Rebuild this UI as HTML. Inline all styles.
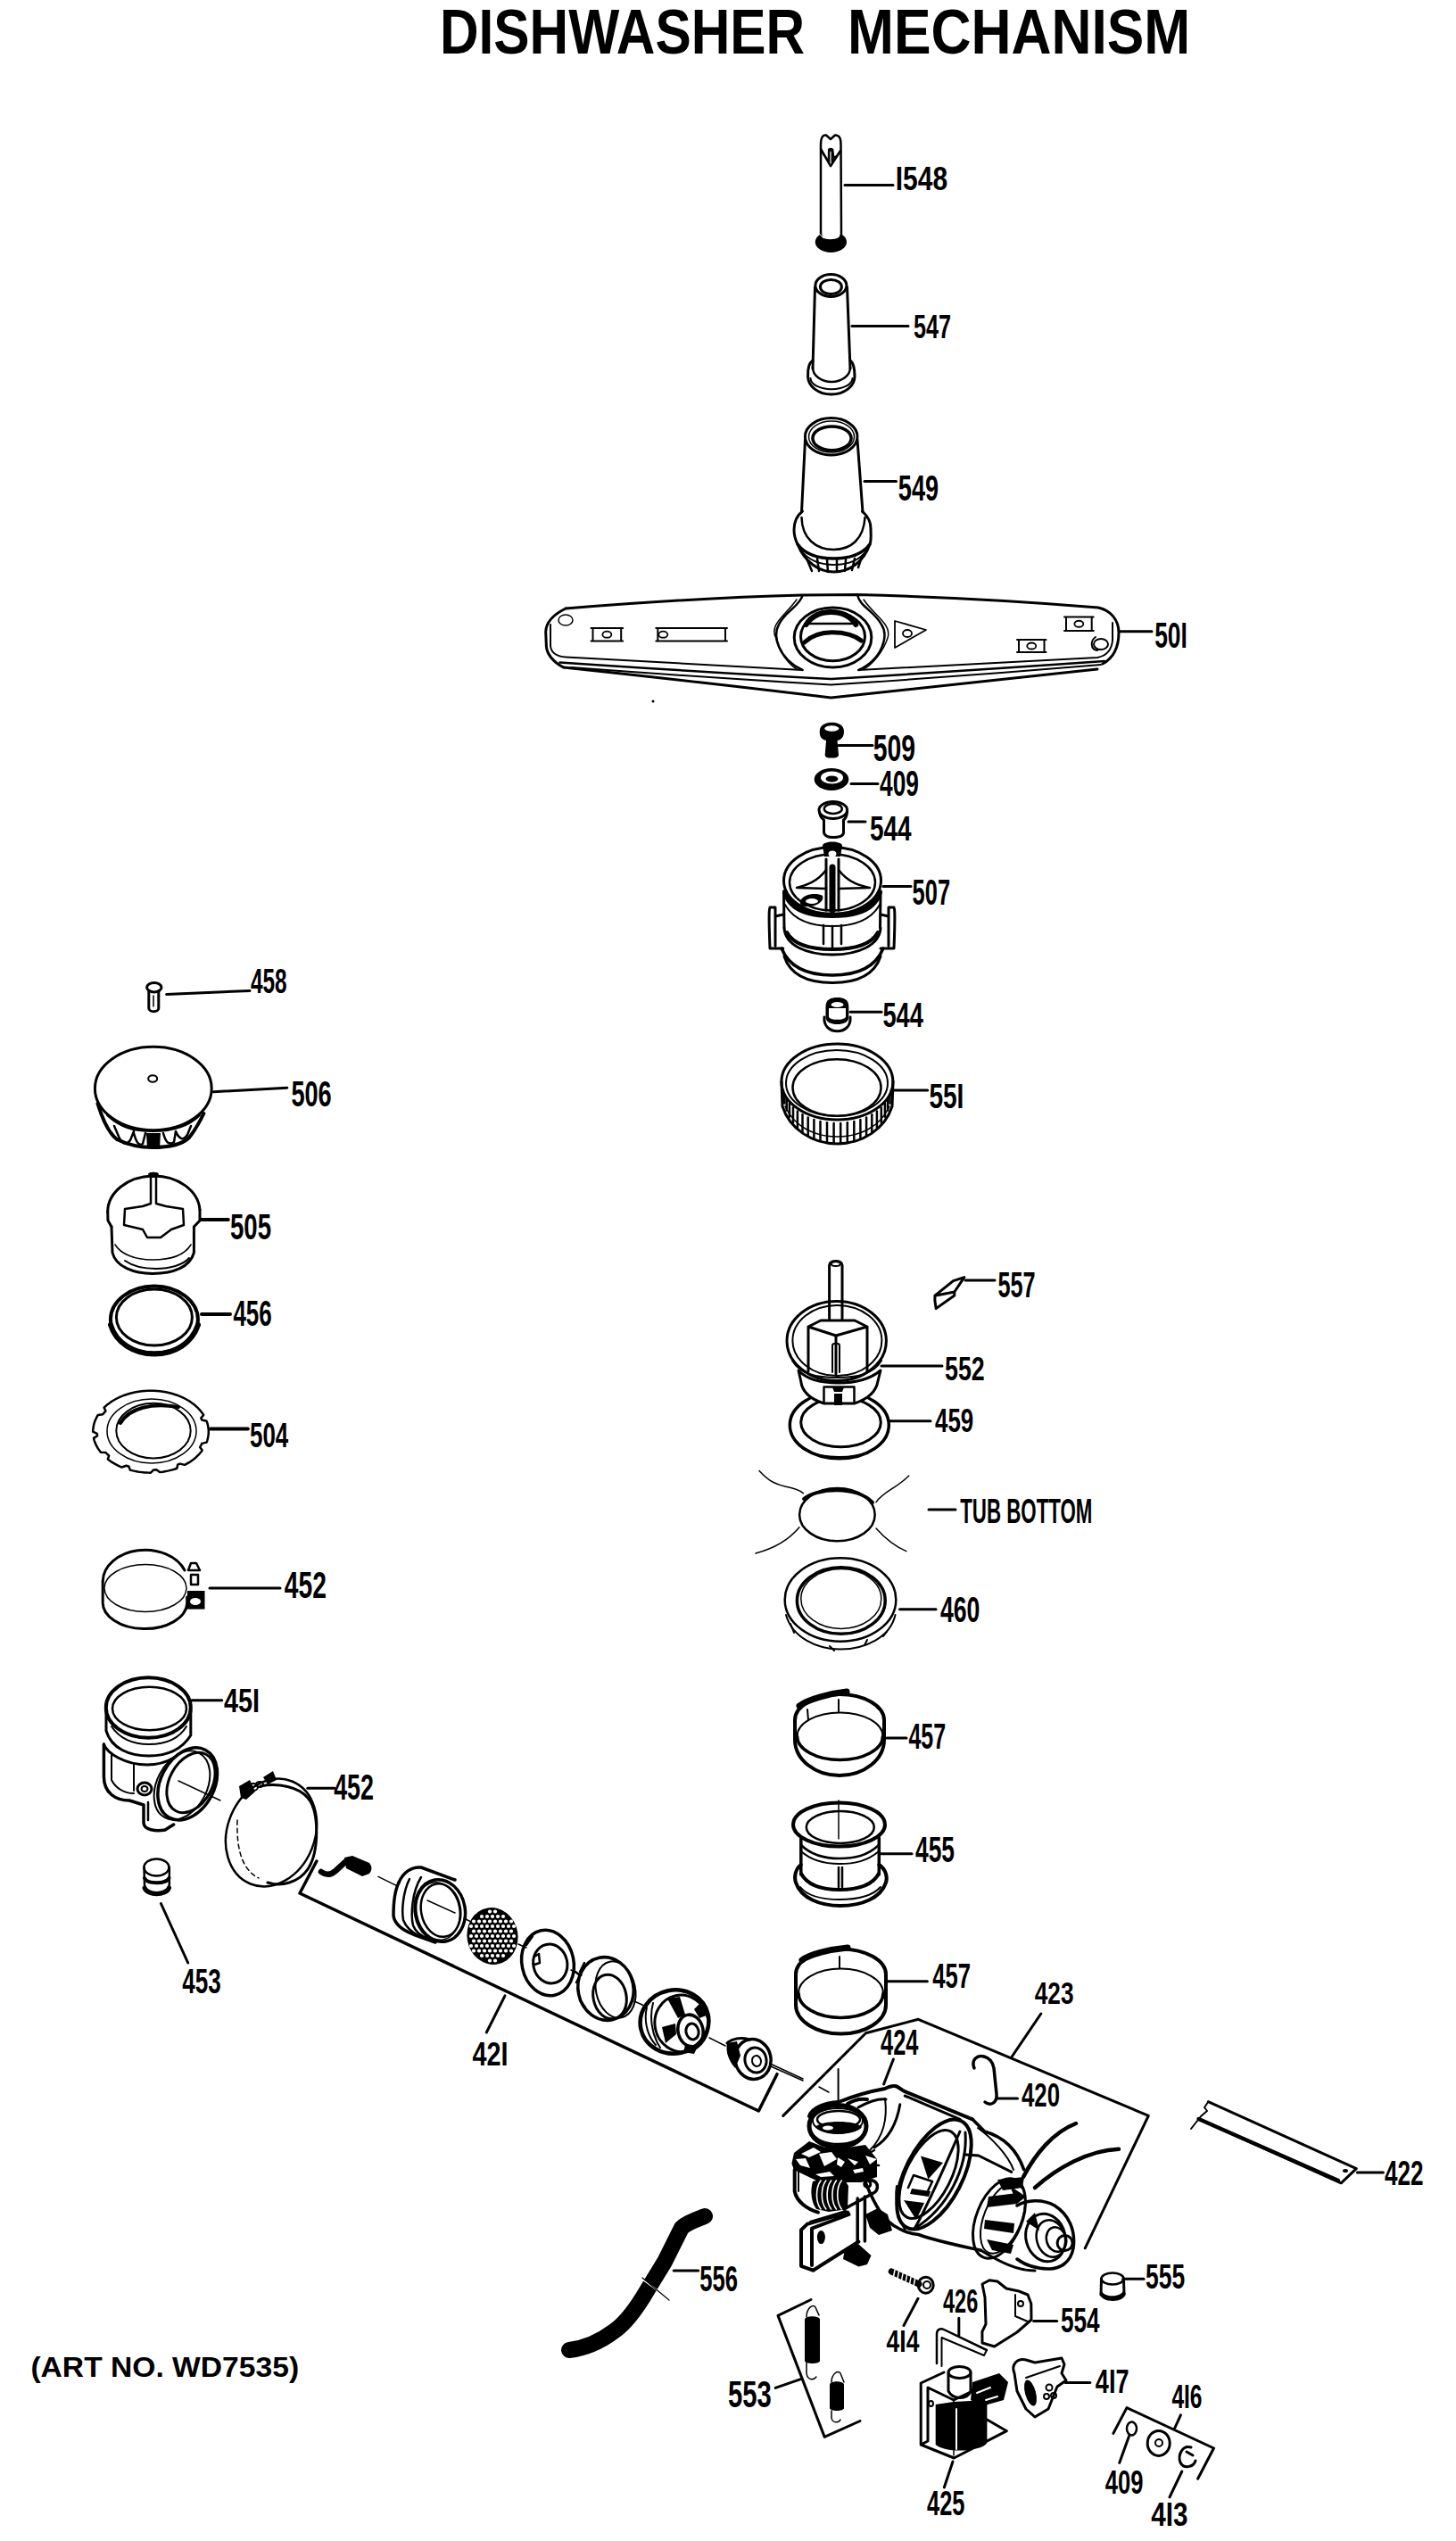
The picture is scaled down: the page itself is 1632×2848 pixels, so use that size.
<!DOCTYPE html><html><head><meta charset="utf-8"><title>Dishwasher Mechanism</title>
<style>html,body{margin:0;padding:0;background:#fff;}svg{display:block;}</style></head><body>
<svg width="1632" height="2848" viewBox="0 0 1632 2848">
<rect width="1632" height="2848" fill="#fff"/>
<g font-family="&quot;Liberation Sans&quot;, sans-serif" font-weight="bold" fill="#000">
<text x="493.0" y="60.0" font-size="71.3" textLength="409.1" lengthAdjust="spacingAndGlyphs">DISHWASHER</text>
<text x="950.0" y="60.0" font-size="71.3" textLength="384.2" lengthAdjust="spacingAndGlyphs">MECHANISM</text>
<text x="34.4" y="2663.7" font-size="31.0" textLength="300.7" lengthAdjust="spacingAndGlyphs">(ART NO. WD7535)</text>
<text x="1003.8" y="212.6" font-size="36.1" textLength="58.3" lengthAdjust="spacingAndGlyphs">I548</text>
<text x="1024.0" y="378.8" font-size="37.5" textLength="42.1" lengthAdjust="spacingAndGlyphs">547</text>
<text x="1006.8" y="560.6" font-size="39.8" textLength="45.3" lengthAdjust="spacingAndGlyphs">549</text>
<text x="1294.2" y="726.0" font-size="40.6" textLength="36.7" lengthAdjust="spacingAndGlyphs">50I</text>
<text x="978.8" y="853.0" font-size="42.1" textLength="47.3" lengthAdjust="spacingAndGlyphs">509</text>
<text x="986.0" y="892.0" font-size="41.5" textLength="43.9" lengthAdjust="spacingAndGlyphs">409</text>
<text x="975.0" y="942.0" font-size="39.2" textLength="46.6" lengthAdjust="spacingAndGlyphs">544</text>
<text x="1022.6" y="1014.0" font-size="41.5" textLength="42.5" lengthAdjust="spacingAndGlyphs">507</text>
<text x="989.4" y="1151.0" font-size="39.2" textLength="45.5" lengthAdjust="spacingAndGlyphs">544</text>
<text x="1041.4" y="1242.0" font-size="39.2" textLength="39.0" lengthAdjust="spacingAndGlyphs">55I</text>
<text x="1118.4" y="1454.0" font-size="40.6" textLength="42.1" lengthAdjust="spacingAndGlyphs">557</text>
<text x="1059.0" y="1547.0" font-size="37.8" textLength="44.7" lengthAdjust="spacingAndGlyphs">552</text>
<text x="1048.0" y="1605.0" font-size="36.4" textLength="43.2" lengthAdjust="spacingAndGlyphs">459</text>
<text x="1076.2" y="1706.6" font-size="38.4" textLength="148.2" lengthAdjust="spacingAndGlyphs">TUB BOTTOM</text>
<text x="1054.0" y="1817.8" font-size="40.4" textLength="44.4" lengthAdjust="spacingAndGlyphs">460</text>
<text x="1018.4" y="1960.0" font-size="40.4" textLength="41.7" lengthAdjust="spacingAndGlyphs">457</text>
<text x="1026.0" y="2087.4" font-size="39.8" textLength="44.0" lengthAdjust="spacingAndGlyphs">455</text>
<text x="1045.2" y="2228.0" font-size="39.2" textLength="42.7" lengthAdjust="spacingAndGlyphs">457</text>
<text x="1159.8" y="2246.4" font-size="34.3" textLength="43.7" lengthAdjust="spacingAndGlyphs">423</text>
<text x="987.0" y="2303.2" font-size="39.8" textLength="42.5" lengthAdjust="spacingAndGlyphs">424</text>
<text x="1145.0" y="2360.8" font-size="37.5" textLength="43.0" lengthAdjust="spacingAndGlyphs">420</text>
<text x="1552.0" y="2449.0" font-size="39.2" textLength="43.5" lengthAdjust="spacingAndGlyphs">422</text>
<text x="784.2" y="2568.0" font-size="40.4" textLength="42.7" lengthAdjust="spacingAndGlyphs">556</text>
<text x="1284.0" y="2565.4" font-size="39.5" textLength="44.1" lengthAdjust="spacingAndGlyphs">555</text>
<text x="1189.0" y="2614.4" font-size="39.2" textLength="43.6" lengthAdjust="spacingAndGlyphs">554</text>
<text x="1057.0" y="2592.4" font-size="37.5" textLength="39.2" lengthAdjust="spacingAndGlyphs">426</text>
<text x="993.6" y="2636.4" font-size="34.3" textLength="36.8" lengthAdjust="spacingAndGlyphs">4I4</text>
<text x="816.0" y="2698.2" font-size="42.6" textLength="48.7" lengthAdjust="spacingAndGlyphs">553</text>
<text x="1227.8" y="2682.0" font-size="36.4" textLength="37.7" lengthAdjust="spacingAndGlyphs">4I7</text>
<text x="1313.4" y="2698.8" font-size="37.5" textLength="34.1" lengthAdjust="spacingAndGlyphs">4I6</text>
<text x="1039.0" y="2819.0" font-size="39.2" textLength="42.4" lengthAdjust="spacingAndGlyphs">425</text>
<text x="1238.8" y="2794.6" font-size="36.0" textLength="42.7" lengthAdjust="spacingAndGlyphs">409</text>
<text x="1290.2" y="2831.4" font-size="37.5" textLength="41.3" lengthAdjust="spacingAndGlyphs">4I3</text>
<text x="281.0" y="1112.6" font-size="39.5" textLength="40.6" lengthAdjust="spacingAndGlyphs">458</text>
<text x="326.4" y="1240.0" font-size="40.9" textLength="45.3" lengthAdjust="spacingAndGlyphs">506</text>
<text x="258.0" y="1389.0" font-size="40.4" textLength="46.1" lengthAdjust="spacingAndGlyphs">505</text>
<text x="261.4" y="1485.8" font-size="40.4" textLength="43.3" lengthAdjust="spacingAndGlyphs">456</text>
<text x="280.0" y="1622.4" font-size="39.2" textLength="43.2" lengthAdjust="spacingAndGlyphs">504</text>
<text x="318.8" y="1791.0" font-size="42.1" textLength="47.1" lengthAdjust="spacingAndGlyphs">452</text>
<text x="251.0" y="1919.0" font-size="37.2" textLength="40.1" lengthAdjust="spacingAndGlyphs">45I</text>
<text x="374.2" y="2017.0" font-size="40.1" textLength="44.8" lengthAdjust="spacingAndGlyphs">452</text>
<text x="204.2" y="2234.0" font-size="39.2" textLength="43.5" lengthAdjust="spacingAndGlyphs">453</text>
<text x="529.6" y="2315.0" font-size="36.4" textLength="40.0" lengthAdjust="spacingAndGlyphs">42I</text>
</g>
<g stroke-linecap="round" stroke-linejoin="round"><ellipse cx="931.4" cy="271.2" rx="17.6" ry="11.7" fill="#000" stroke="#000" stroke-width="0"/>
<path d="M920,262 L920,162 C920,153 923,151 926,151.5 L931,156 L936,151.5 C940,151 942.5,154 942.5,162 L943,262 C943,268 938,269.5 931,269.5 C924,269.5 920,268 920,262 Z" fill="#fff" stroke="#000" stroke-width="2.5" />
<path d="M919.5,167.7 L931.2,187.6 L942.2,170.2 L940.3,172.7 L935.2,175 L934.3,167 Q931,164.5 928,167 L927.7,177.8 L922.7,174.6 Z" fill="#000" stroke="none"/>
<path d="M920,167 L931,186 L942,169" fill="none" stroke="#000" stroke-width="2.5" />
<path d="M931,170 L931,183" fill="none" stroke="#fff" stroke-width="1.2" />
<path d="M918.5,262 L923,267" fill="none" stroke="#fff" stroke-width="1" />
<line x1="947" y1="207.6" x2="1001" y2="207.6" stroke="#000" stroke-width="3"/>
<ellipse cx="931.4" cy="320" rx="17.5" ry="12.5" fill="none" stroke="#000" stroke-width="3"/>
<ellipse cx="931.4" cy="321.5" rx="12" ry="8" fill="none" stroke="#000" stroke-width="3"/>
<path d="M913.5,322 L911,413 M949.5,322 L953,413" fill="none" stroke="#000" stroke-width="3" />
<path d="M911,404 Q905,408 905.6,422 A26.2,20 0 0 0 958,422 Q958,408 953,404" fill="none" stroke="#000" stroke-width="3" />
<path d="M911,412 A21,16 0 0 0 953,412" fill="none" stroke="#000" stroke-width="2.5" />
<path d="M908.5,424 A23,12 0 0 0 955.5,424" fill="none" stroke="#000" stroke-width="2" />
<line x1="955" y1="365.6" x2="1018" y2="365.6" stroke="#000" stroke-width="3"/>
<ellipse cx="931.7" cy="489.3" rx="29.3" ry="20.7" fill="none" stroke="#000" stroke-width="3"/>
<ellipse cx="932.5" cy="491.3" rx="21.6" ry="13.4" fill="none" stroke="#000" stroke-width="3.5"/>
<ellipse cx="932" cy="489.6" rx="25.5" ry="17.5" fill="none" stroke="#000" stroke-width="1.5"/>
<path d="M902.5,493 L898.5,574 M961,493 L967,574" fill="none" stroke="#000" stroke-width="3" />
<path d="M899.5,573 C893,578 890,585 890,594 C890,602 892,606 894,610 C902,630 918,641 934.5,641 C952,641 968,630 975,610 C977,605 976,598 976,592 C976,584 972,578 966.5,573" fill="none" stroke="#000" stroke-width="3" />
<path d="M898.5,580 C899,604 915,616 934.5,616 C954,616 968,604 969.5,580" fill="none" stroke="#000" stroke-width="2.5" />
<path d="M894,610 C903,622 918,626 934.5,626 C952,626 966,622 975,610" fill="none" stroke="#000" stroke-width="3.5" />
<path d="M897,616 C906,628 918,633 934.5,633 C952,633 964,628 972,616" fill="none" stroke="#000" stroke-width="2" />
<path d="M905,628 L910,640 M916,626 L918,640 M927,627 L928,641 M938,627 L938,641 M948,627 L947,640 M958,626 L955,639 M966,624 L962,636" fill="none" stroke="#000" stroke-width="2.5" />
<line x1="969" y1="539.6" x2="1004.5" y2="539.6" stroke="#000" stroke-width="3"/>
<path d="M634,682 Q780,670 899.5,667 L961,666.5 Q1100,670 1231,681 C1245,684 1254,695 1254,709 C1254,727 1247,738 1236,744" fill="none" stroke="#000" stroke-width="3" />
<path d="M634,682 C622,688 612,697 611.7,708 L612.4,724.6 C613,733 620,742 631.6,748" fill="none" stroke="#000" stroke-width="3" />
<path d="M617,700 L617,724 C618,732 625,736 634.3,736.5 L899.5,751 M962,751 L1230,737 C1240,735 1246,728 1247,718 L1247,698" fill="none" stroke="#000" stroke-width="2" />
<path d="M627.5,742.4 Q800,754 931.5,761 Q1080,752 1238,741" fill="none" stroke="#000" stroke-width="2.5" />
<path d="M631.6,748 Q800,766 931.5,782 Q1080,766 1230,750" fill="none" stroke="#000" stroke-width="3" />
<path d="M640,748 Q800,760 931.5,767.5 Q1080,758 1234,745" fill="none" stroke="#000" stroke-width="2" />
<path d="M899.5,667.5 C896,680 880,685 873,700 C866,712 872,738 899.5,751" fill="none" stroke="#000" stroke-width="2.5" />
<path d="M893,672 C880,690 862,700 869.6,715 C872,730 885,745 893,750" fill="none" stroke="#000" stroke-width="1.5" />
<path d="M961.3,667.5 C964,680 980,685 988,700 C996,712 990,738 962.4,751" fill="none" stroke="#000" stroke-width="2.5" />
<path d="M968,672 C980,690 1000,700 995,715 C990,730 978,745 968,750" fill="none" stroke="#000" stroke-width="1.5" />
<ellipse cx="933.5" cy="714.5" rx="43.3" ry="33.5" fill="none" stroke="#000" stroke-width="3"/>
<ellipse cx="933.5" cy="713.4" rx="36" ry="27.3" fill="none" stroke="#000" stroke-width="3"/>
<path d="M903.6,700 C910,690 920,686 931.5,686 C943,686 953,690 959.3,700" fill="none" stroke="#000" stroke-width="6" />
<line x1="903" y1="699" x2="960" y2="699" stroke="#000" stroke-width="2.5"/>
<path d="M901.6,720 C910,712 920,708.7 932.5,708.7 C945,708.7 958,712 965.4,718" fill="none" stroke="#000" stroke-width="5" />
<path d="M662.5,704 L698.2,704 M662.5,718.4 L698.2,718.4 M664.5,704 L664.5,718.4 M696.2,704 L696.2,718.4" fill="none" stroke="#000" stroke-width="2" />
<ellipse cx="680.35" cy="711.2" rx="5" ry="3.5" fill="none" stroke="#000" stroke-width="1.8"/>
<path d="M735.3,704 L815,704 M735.3,718.4 L815,718.4 M737.3,704 L737.3,718.4 M813,704 L813,718.4" fill="none" stroke="#000" stroke-width="2" />
<ellipse cx="743.3" cy="711.2" rx="5" ry="3.5" fill="none" stroke="#000" stroke-width="1.8"/>
<path d="M1193,691.5 L1225.7,691.5 M1193,707 L1225.7,707 M1195,691.5 L1195,707 M1223.7,691.5 L1223.7,707" fill="none" stroke="#000" stroke-width="2" />
<ellipse cx="1209.35" cy="699.25" rx="5" ry="3.5" fill="none" stroke="#000" stroke-width="1.8"/>
<path d="M1140,717 L1172.5,717 M1140,731 L1172.5,731 M1142,717 L1142,731 M1170.5,717 L1170.5,731" fill="none" stroke="#000" stroke-width="2" />
<ellipse cx="1156.25" cy="724.0" rx="5" ry="3.5" fill="none" stroke="#000" stroke-width="1.8"/>
<path d="M1003,696 L1038,706 L1003,726 Z" fill="none" stroke="#000" stroke-width="1.8" />
<ellipse cx="1017" cy="710" rx="5" ry="4" fill="none" stroke="#000" stroke-width="1.8"/>
<path d="M626,695 A8,6 0 1 0 642,695 A8,6 0 1 0 626,695" fill="none" stroke="#000" stroke-width="1.5" />
<path d="M1228,714 C1222,718 1222,728 1230,729 M1226,722 A8,6 0 1 0 1242,722 A8,6 0 1 0 1226,722" fill="none" stroke="#000" stroke-width="2" />
<line x1="1255" y1="707.7" x2="1291" y2="707.7" stroke="#000" stroke-width="3"/>
<path d="M918.7,820 C918.7,812 926,809.7 932.3,809.7 C939,809.7 946,812 946,820 C946,828 940,830 938.5,830 L940,846 C940,849 936,849.5 932.3,849.5 C928,849.5 924.7,849 924.7,846 L926,830 C922,829 918.7,827 918.7,820 Z" fill="#000" stroke="none"/>
<ellipse cx="932.3" cy="816.5" rx="8" ry="3.2" fill="#fff" stroke="#000" stroke-width="0"/>
<line x1="940" y1="835.5" x2="978" y2="835.5" stroke="#000" stroke-width="3"/>
<ellipse cx="932" cy="873.5" rx="19.3" ry="12.5" fill="#000" stroke="#000" stroke-width="0"/>
<ellipse cx="932.5" cy="871.5" rx="12.5" ry="7" fill="#fff" stroke="#000" stroke-width="0"/>
<ellipse cx="932.5" cy="873" rx="7" ry="3.5" fill="#000" stroke="#000" stroke-width="0"/>
<line x1="954" y1="878.4" x2="984" y2="878.4" stroke="#000" stroke-width="3"/>
<ellipse cx="933.8" cy="908" rx="15.8" ry="9.5" fill="none" stroke="#000" stroke-width="3"/>
<ellipse cx="933.8" cy="906.5" rx="10" ry="5.5" fill="none" stroke="#000" stroke-width="2.5"/>
<path d="M918.5,910 C919,916 922,918 923.5,919 L923.5,933 C924,937 928,938.5 934,938.5 C940,938.5 945.5,937 945.5,933 L945.5,919 C947,918 949,915 949.6,910" fill="none" stroke="#000" stroke-width="3" />
<line x1="951" y1="921" x2="970" y2="921" stroke="#000" stroke-width="3"/>
<ellipse cx="933" cy="987" rx="54.5" ry="37.5" fill="none" stroke="#000" stroke-width="3"/>
<ellipse cx="933" cy="989" rx="48" ry="31.5" fill="none" stroke="#000" stroke-width="2.5"/>
<path d="M878.5,999 L879,1040 M987,999 L986.5,1040" fill="none" stroke="#000" stroke-width="3" />
<path d="M880,1000 C885,1018 905,1026 933,1026 C961,1026 981,1018 986,1000" fill="none" stroke="#000" stroke-width="6" />
<path d="M882,1045 C890,1060 910,1064 933,1064 C956,1064 976,1060 984,1045" fill="none" stroke="#000" stroke-width="4" />
<path d="M880,1014 C890,1032 910,1038 933,1038 C956,1038 976,1032 986,1014" fill="none" stroke="#000" stroke-width="2" />
<path d="M922,948 C922,942 944,942 944,948 L942,960 L924,960 Z" fill="#000" stroke="none"/>
<ellipse cx="933" cy="957" rx="4.5" ry="3.5" fill="#fff" stroke="#000" stroke-width="0"/>
<path d="M926,963 L926,1020 M940,963 L940,1020" fill="none" stroke="#000" stroke-width="3" />
<path d="M933,972 L933,1020" fill="none" stroke="#000" stroke-width="7" />
<path d="M926,975 C915,990 900,993 893,995 L926,996 M940,975 C951,990 966,993 975,995 L940,996" fill="none" stroke="#000" stroke-width="2.5" />
<path d="M897,1010 C900,1002 915,1000 922,1004 C924,1010 916,1016 905,1016 C899,1016 896,1014 897,1010 Z" fill="#000" stroke="none"/>
<ellipse cx="910" cy="1010" rx="7" ry="3" fill="#fff" stroke="#000" stroke-width="0"/>
<path d="M879,1040 C880,1060 905,1070 933,1070 C961,1070 986,1060 987,1040" fill="none" stroke="#000" stroke-width="3" />
<path d="M923,1037 L923,1058 M933,1038 L933,1064 M943,1037 L943,1058" fill="none" stroke="#000" stroke-width="2.5" />
<path d="M863,1017 C861,1017 863,1063 863,1063 L877.8,1063 M863,1017 L869,1017 L869,1060 M869,1027 L878,1025" fill="none" stroke="#000" stroke-width="3" />
<path d="M1002,1017 C1004,1017 1002,1063 1002,1063 L987,1063 M1002,1017 L996,1017 L996,1060 M996,1027 L987,1025" fill="none" stroke="#000" stroke-width="3" />
<path d="M876,1063 C885,1085 905,1093 933,1093 C961,1093 981,1085 990,1063" fill="none" stroke="#000" stroke-width="3.5" />
<path d="M879,1072 C886,1093 906,1101.5 933,1101.5 C960,1101.5 980,1093 987,1072" fill="none" stroke="#000" stroke-width="3" />
<line x1="990" y1="993.5" x2="1021" y2="993.5" stroke="#000" stroke-width="3"/>
<path d="M925.5,1128 C925.5,1120 932,1118 938.5,1118 C945,1118 951.3,1120 951.3,1128 L951.3,1140 C951.3,1146 945,1148 938.5,1148 C932,1148 925.5,1146 925.5,1140 Z" fill="#000" stroke="none"/>
<ellipse cx="938.5" cy="1126" rx="7" ry="3" fill="#fff" stroke="#000" stroke-width="0"/>
<path d="M928,1130 L928,1140 C930,1145 947,1145 949,1140 L949,1130" fill="#fff" stroke="#000" stroke-width="2" />
<path d="M924,1140 C923,1150 930,1155.8 938.5,1155.8 C947,1155.8 954,1150 953,1140" fill="none" stroke="#000" stroke-width="3" />
<line x1="953" y1="1134.3" x2="988" y2="1134.3" stroke="#000" stroke-width="3"/>
<ellipse cx="938.4" cy="1212.5" rx="62.5" ry="42.5" fill="none" stroke="#000" stroke-width="3"/>
<ellipse cx="938" cy="1214" rx="57" ry="37" fill="none" stroke="#000" stroke-width="2"/>
<ellipse cx="938" cy="1219" rx="49.5" ry="31.8" fill="none" stroke="#000" stroke-width="2.5"/>
<path d="M876,1212 L877,1240 C885,1265 910,1282 938.4,1282 C967,1282 992,1265 1000,1240 L1001,1212" fill="none" stroke="#000" stroke-width="3" />
<path d="M880,1240 C890,1262 912,1274 938.4,1274 C965,1274 987,1262 997,1240" fill="none" stroke="#000" stroke-width="1.5" />
<path d="M877.9,1221.8 L877.9,1227.4" fill="none" stroke="#000" stroke-width="2.5" />
<path d="M879.3,1227.1 L879.3,1236.5" fill="none" stroke="#000" stroke-width="2.5" />
<path d="M881.7,1232.1 L881.7,1244.5" fill="none" stroke="#000" stroke-width="2.5" />
<path d="M884.9,1237.0 L884.9,1251.7" fill="none" stroke="#000" stroke-width="2.5" />
<path d="M889.0,1241.5 L889.0,1258.2" fill="none" stroke="#000" stroke-width="2.5" />
<path d="M893.9,1245.6 L893.9,1263.9" fill="none" stroke="#000" stroke-width="2.5" />
<path d="M899.5,1249.2 L899.5,1268.9" fill="none" stroke="#000" stroke-width="2.5" />
<path d="M905.7,1252.4 L905.7,1273.2" fill="none" stroke="#000" stroke-width="2.5" />
<path d="M912.4,1255.0 L912.4,1276.6" fill="none" stroke="#000" stroke-width="2.5" />
<path d="M919.5,1256.9 L919.5,1279.3" fill="none" stroke="#000" stroke-width="2.5" />
<path d="M927.0,1258.2 L927.0,1281.0" fill="none" stroke="#000" stroke-width="2.5" />
<path d="M934.6,1258.9 L934.6,1281.9" fill="none" stroke="#000" stroke-width="2.5" />
<path d="M942.2,1258.9 L942.2,1281.9" fill="none" stroke="#000" stroke-width="2.5" />
<path d="M949.8,1258.2 L949.8,1281.0" fill="none" stroke="#000" stroke-width="2.5" />
<path d="M957.3,1256.9 L957.3,1279.3" fill="none" stroke="#000" stroke-width="2.5" />
<path d="M964.4,1255.0 L964.4,1276.6" fill="none" stroke="#000" stroke-width="2.5" />
<path d="M971.1,1252.4 L971.1,1273.2" fill="none" stroke="#000" stroke-width="2.5" />
<path d="M977.3,1249.2 L977.3,1268.9" fill="none" stroke="#000" stroke-width="2.5" />
<path d="M982.9,1245.6 L982.9,1263.9" fill="none" stroke="#000" stroke-width="2.5" />
<path d="M987.8,1241.5 L987.8,1258.2" fill="none" stroke="#000" stroke-width="2.5" />
<path d="M991.9,1237.0 L991.9,1251.7" fill="none" stroke="#000" stroke-width="2.5" />
<path d="M995.1,1232.1 L995.1,1244.5" fill="none" stroke="#000" stroke-width="2.5" />
<path d="M997.5,1227.1 L997.5,1236.5" fill="none" stroke="#000" stroke-width="2.5" />
<path d="M998.9,1221.8 L998.9,1227.4" fill="none" stroke="#000" stroke-width="2.5" />
<line x1="1002" y1="1222" x2="1039.7" y2="1222" stroke="#000" stroke-width="3"/>
<path d="M929.6,1478 L929.6,1418 C929.6,1412 944,1412 944,1418 L944,1478" fill="none" stroke="#000" stroke-width="3" />
<ellipse cx="936.8" cy="1416.5" rx="5" ry="2.5" fill="none" stroke="#000" stroke-width="2"/>
<ellipse cx="937.7" cy="1503" rx="55.7" ry="44.5" fill="none" stroke="#000" stroke-width="3"/>
<ellipse cx="938.4" cy="1502.5" rx="50" ry="39.5" fill="none" stroke="#000" stroke-width="2"/>
<path d="M906,1487 L906,1537 M972,1487 L972,1537 M906,1487 L920,1480 L958,1480 L972,1487 L937,1497 L906,1487 M937,1497 L937,1540" fill="none" stroke="#000" stroke-width="3" />
<path d="M933,1508 L933,1538 M941,1508 L941,1538 M933,1508 C933,1505 941,1505 941,1508" fill="none" stroke="#000" stroke-width="2" />
<path d="M888,1525 C897,1540 915,1544 938,1544 C961,1544 979,1540 988,1525" fill="none" stroke="#000" stroke-width="2" />
<line x1="988" y1="1531" x2="1056" y2="1531" stroke="#000" stroke-width="3"/>
<ellipse cx="940.8" cy="1597.3" rx="55.5" ry="37.5" fill="none" stroke="#000" stroke-width="3.5"/>
<ellipse cx="942.5" cy="1594.3" rx="44.8" ry="27.5" fill="none" stroke="#000" stroke-width="3"/>
<path d="M888,1610 C896,1626 915,1633 940,1633 C966,1633 985,1626 994,1610" fill="none" stroke="#000" stroke-width="2" />
<line x1="996.6" y1="1592.7" x2="1043" y2="1592.7" stroke="#000" stroke-width="3"/>
<path d="M895,1536 L897.7,1548 C899,1560 908,1568 923.5,1573 L957.5,1573 C973,1568 982,1560 984,1548 L987,1536 C975,1546 960,1550 940,1550 C918,1550 904,1546 895,1536 Z" fill="#fff" stroke="#000" stroke-width="3" />
<path d="M923.5,1554.5 L923.5,1572 M957.5,1554.5 L957.5,1572 M923.5,1554.5 L957.5,1554.5" fill="none" stroke="#000" stroke-width="2.5" />
<path d="M935,1562 L944,1562 L944,1575 L935,1575 Z" fill="#000" stroke="none"/>
<path d="M933,1555 L946,1555 L944,1560 L935,1560 Z" fill="#000" stroke="none"/>
<path d="M1047.9,1452.2 L1068.5,1435.7 L1080.8,1431.6 L1069.8,1448 L1069.8,1452 L1049.2,1466.6 L1047.9,1457.7 Z M1047.9,1452.2 L1069.8,1448" fill="none" stroke="#000" stroke-width="3" />
<line x1="1082" y1="1435" x2="1115" y2="1435" stroke="#000" stroke-width="3"/>
<ellipse cx="938.4" cy="1697.7" rx="42.3" ry="29.6" fill="none" stroke="#000" stroke-width="2.5"/>
<path d="M901,1680 C915,1668 960,1665 978,1684" fill="none" stroke="#000" stroke-width="4" />
<path d="M851,1648.5 C860,1658 865,1662 880,1666 C890,1668 897,1670 900.4,1673.8" fill="none" stroke="#000" stroke-width="1.5" />
<path d="M1018.7,1654 C1005,1668 990,1672 982,1683.6" fill="none" stroke="#000" stroke-width="1.5" />
<path d="M847,1741 C870,1735 885,1725 896,1711.8" fill="none" stroke="#000" stroke-width="1.5" />
<path d="M1015.9,1738.6 C1000,1732 990,1722 982,1713" fill="none" stroke="#000" stroke-width="1.5" />
<line x1="1041" y1="1692" x2="1071" y2="1692" stroke="#000" stroke-width="3"/>
<ellipse cx="942" cy="1793" rx="62.3" ry="46.8" fill="none" stroke="#000" stroke-width="2.5"/>
<ellipse cx="942.8" cy="1794" rx="49.4" ry="37.3" fill="none" stroke="#000" stroke-width="3.5"/>
<ellipse cx="942.8" cy="1792" rx="45" ry="33.5" fill="none" stroke="#000" stroke-width="1.5"/>
<path d="M881,1810 C888,1835 915,1848.5 942,1848.5 C970,1848.5 998,1835 1003.5,1810" fill="none" stroke="#000" stroke-width="2" />
<path d="M886,1820 L890,1830 M930,1845 L935,1850 M969,1844 L972,1838 M990,1834 L994,1829" fill="none" stroke="#000" stroke-width="2" />
<line x1="1008.5" y1="1803.8" x2="1049" y2="1803.8" stroke="#000" stroke-width="3"/>
<path d="M891,1950 L891,1928 A50,29 0 0 1 991,1928 L991,1950 A50,40 0 0 1 891,1950" fill="none" stroke="#000" stroke-width="4" />
<path d="M893.5,1946 A48,26.6 0 0 1 989.5,1946" fill="none" stroke="#000" stroke-width="2" />
<path d="M893.5,1946 A48,26.6 0 0 0 989.5,1946" fill="none" stroke="#000" stroke-width="3.5" />
<path d="M896,1912 C905,1905 930,1898 949,1896" fill="none" stroke="#000" stroke-width="7" />
<path d="M905,1916 L906,1928 M940,1905 L940,1919" fill="none" stroke="#000" stroke-width="2" />
<line x1="994" y1="1948" x2="1016" y2="1948" stroke="#000" stroke-width="3"/>
<ellipse cx="940.5" cy="2045" rx="51.5" ry="24.5" fill="none" stroke="#000" stroke-width="4"/>
<ellipse cx="941.8" cy="2048" rx="38" ry="18" fill="none" stroke="#000" stroke-width="2.5"/>
<path d="M940,2018 L940,2061" fill="none" stroke="#000" stroke-width="1.5" />
<path d="M897.8,2060 L897.8,2101 M985.3,2060 L985.3,2101" fill="none" stroke="#000" stroke-width="3.5" />
<path d="M898,2068 C910,2080 925,2083 941,2083 C958,2083 972,2080 985,2068" fill="none" stroke="#000" stroke-width="2.5" />
<path d="M898,2075 C910,2086 925,2089 941,2089 C958,2089 972,2086 985,2075" fill="none" stroke="#000" stroke-width="2" />
<path d="M940,2093 L940,2115 M944,2093 L944,2115" fill="none" stroke="#000" stroke-width="2.5" />
<path d="M897.8,2090 C891,2095 890,2105 892,2110 C898,2128 920,2136 942,2136 C965,2136 987,2128 993,2110 C995,2104 993,2095 985.3,2090" fill="none" stroke="#000" stroke-width="4" />
<path d="M898,2100 C905,2113 922,2118 941,2118 C961,2118 978,2113 985,2100" fill="none" stroke="#000" stroke-width="4" />
<path d="M897,2115 C905,2125 922,2129 941,2129 C961,2129 978,2125 987,2115" fill="none" stroke="#000" stroke-width="2" />
<line x1="986" y1="2077.8" x2="1022" y2="2077.8" stroke="#000" stroke-width="3"/>
<path d="M892,2247 L892,2213 A50.5,28.5 0 0 1 993,2213 L993,2247 A50.5,32.5 0 0 1 892,2247" fill="none" stroke="#000" stroke-width="4" />
<path d="M895,2234 A47.5,27.4 0 0 1 990,2234" fill="none" stroke="#000" stroke-width="2" />
<path d="M895,2234 A47.5,27.4 0 0 0 990,2234" fill="none" stroke="#000" stroke-width="3.5" />
<path d="M899,2197 C908,2190 930,2185 950,2183" fill="none" stroke="#000" stroke-width="7" />
<path d="M941,2193 L941,2206" fill="none" stroke="#000" stroke-width="2" />
<line x1="994.8" y1="2220.8" x2="1039.4" y2="2220.8" stroke="#000" stroke-width="3"/>
<ellipse cx="172.8" cy="1106.7" rx="8.2" ry="5.2" fill="none" stroke="#000" stroke-width="3"/>
<path d="M166.8,1111 L166.8,1130 C167,1135 177.8,1135 177.8,1130 L177.8,1111" fill="none" stroke="#000" stroke-width="3" />
<line x1="172" y1="1116" x2="172" y2="1128" stroke="#000" stroke-width="1.5"/>
<path d="M186.6,1114.5 L280,1110.5" fill="none" stroke="#000" stroke-width="3" />
<ellipse cx="171.8" cy="1220" rx="65.4" ry="46.7" fill="none" stroke="#000" stroke-width="3"/>
<ellipse cx="171.2" cy="1209" rx="5" ry="3.8" fill="none" stroke="#000" stroke-width="2"/>
<path d="M109.5,1237 C115,1255 122,1270 131,1277 C145,1284 160,1286 171,1286 C190,1286 205,1282 212,1275 C220,1265 225,1255 228.4,1248" fill="none" stroke="#000" stroke-width="4" />
<path d="M120,1250 C135,1264 150,1268 171,1268 C195,1268 212,1262 224,1250" fill="none" stroke="#000" stroke-width="2" />
<path d="M128,1262 L134,1276 Q140,1286 146,1278 L150,1268 M150,1270 Q154,1286 160,1282 L163,1270 M183,1270 Q187,1286 195,1280 L197,1268 M197,1268 Q203,1282 210,1272 L214,1262" fill="none" stroke="#000" stroke-width="2.5" />
<path d="M164,1270 L180,1270 L179,1287 L165,1287 Z" fill="#000" stroke="none"/>
<path d="M239.3,1223.7 L321.8,1219.3" fill="none" stroke="#000" stroke-width="3" />
<path d="M120.7,1358 A51.7,40.5 0 0 1 224,1356" fill="none" stroke="#000" stroke-width="3" />
<path d="M120.7,1358 L121,1368 L125,1375 M224,1356 L224,1368 L217.4,1375" fill="none" stroke="#000" stroke-width="3" />
<path d="M125,1375 L126,1404 C130,1420 150,1427.4 171,1427.4 C195,1427.4 213,1420 217.4,1404 L217.4,1375" fill="none" stroke="#000" stroke-width="3" />
<path d="M129,1395 C135,1405 150,1412 171,1412 C195,1412 208,1405 214,1395" fill="none" stroke="#000" stroke-width="1.5" />
<path d="M140,1413 C150,1420 165,1422 175,1422 C190,1422 205,1418 212,1410" fill="none" stroke="#000" stroke-width="2" />
<path d="M169,1318 L169,1349 L160,1352 L140,1355 L139,1373 L160,1378 L165,1387 L180,1387 L192,1378 L206,1373 L205,1355 L186,1352 L175,1349 L175,1318" fill="none" stroke="#000" stroke-width="2.5" />
<path d="M166,1316 C166,1313 178,1313 178,1316 L176,1320 L168,1320 Z" fill="#000" stroke="none"/>
<path d="M225,1367 L255.8,1367" fill="none" stroke="#000" stroke-width="4" />
<ellipse cx="172.9" cy="1479" rx="49" ry="37.5" fill="none" stroke="#000" stroke-width="4"/>
<ellipse cx="172.9" cy="1476.5" rx="42.5" ry="31.5" fill="none" stroke="#000" stroke-width="3"/>
<path d="M124,1485 C130,1505 150,1517.5 172.9,1517.5 C197,1517.5 215,1505 222,1485" fill="none" stroke="#000" stroke-width="6" />
<path d="M226,1473 L258,1473" fill="none" stroke="#000" stroke-width="4" />
<path d="M233.8,1604.7 L233.7,1607.1 L233.4,1609.5 L233.0,1611.9 L232.4,1614.3 L231.6,1616.6 L226.3,1617.9 L225.3,1620.0 L224.1,1622.1 L226.7,1625.6 L225.1,1627.7 L223.3,1629.8 L221.4,1631.7 L219.4,1633.6 L217.2,1635.5 L214.8,1637.2 L212.4,1638.9 L209.8,1640.4 L207.1,1641.9 L201.8,1640.6 L199.1,1641.7 L198.4,1645.7 L195.4,1646.7 L192.2,1647.6 L189.0,1648.4 L185.8,1649.1 L182.5,1649.7 L179.1,1650.1 L175.3,1647.2 L172.2,1647.4 L169.0,1650.7 L165.6,1650.6 L162.2,1650.4 L158.9,1650.1 L155.5,1649.7 L152.2,1649.1 L149.0,1648.4 L145.8,1647.6 L144.5,1643.8 L141.6,1642.8 L136.6,1644.5 L133.7,1643.3 L130.9,1641.9 L128.2,1640.4 L125.6,1638.9 L123.2,1637.2 L120.8,1635.5 L122.2,1631.6 L120.2,1629.8 L118.5,1628.0 L112.9,1627.7 L111.3,1625.6 L109.8,1623.4 L108.5,1621.2 L107.4,1618.9 L106.4,1616.6 L105.6,1614.3 L105.0,1611.9 L109.1,1609.2 L108.8,1606.9 L104.2,1604.7 L104.3,1602.3 L104.6,1599.9 L105.0,1597.5 L105.6,1595.1 L106.4,1592.8 L107.4,1590.5 L108.5,1588.2 L109.8,1586.0 L115.3,1585.3 L116.8,1583.3 L118.5,1581.4 L116.6,1577.7 L118.6,1575.8 L120.8,1573.9 L123.2,1572.2 L125.6,1570.5 L128.2,1569.0 L130.9,1567.5 L133.7,1566.1 L136.6,1564.9 L139.6,1563.7 L142.6,1562.7 L145.8,1561.8 L149.0,1561.0 L152.2,1560.3 L155.5,1559.7 L158.9,1559.3 L162.2,1559.0 L165.6,1558.8 L169.0,1558.7 L172.4,1558.8 L175.8,1559.0 L179.1,1559.3 L182.5,1559.7 L185.8,1560.3 L189.0,1561.0 L192.2,1561.8 L195.4,1562.7 L198.4,1563.7 L201.4,1564.9 L204.3,1566.1 L207.1,1567.5 L209.8,1569.0 L212.4,1570.5 L214.8,1572.2 L217.2,1573.9 L219.4,1575.8 L221.4,1577.7 L223.3,1579.6 L225.1,1581.7 L226.7,1583.8 L228.2,1586.0 L225.3,1589.4 L226.3,1591.5 L231.6,1592.8 L232.4,1595.1 L233.0,1597.5 L233.4,1599.9 L233.7,1602.3 L233.8,1604.7 Z" fill="none" stroke="#000" stroke-width="2.5" />
<ellipse cx="170" cy="1604" rx="50" ry="36" fill="none" stroke="#000" stroke-width="1.5"/>
<ellipse cx="172" cy="1603.6" rx="41.7" ry="30.8" fill="none" stroke="#000" stroke-width="2"/>
<path d="M135,1595 C145,1578 170,1572 200,1577" fill="none" stroke="#000" stroke-width="4" />
<path d="M236,1601.4 L277.8,1601.4" fill="none" stroke="#000" stroke-width="4" />
<path d="M115.2,1772 A47.5,35.5 0 0 1 207,1760" fill="none" stroke="#000" stroke-width="3" />
<path d="M117,1780 A46,26.5 0 0 1 209,1780 A46,26.5 0 0 1 117,1780" fill="none" stroke="#000" stroke-width="1.5" />
<path d="M115.2,1772 L115.2,1795 A47.2,29.5 0 0 0 209.7,1797 L209.7,1790" fill="none" stroke="#000" stroke-width="3" />
<path d="M211,1760 L224,1760 L220,1752 L214,1752 Z M214,1765 L222,1765 L222,1776 L214,1776 Z" fill="none" stroke="#000" stroke-width="2.5" />
<path d="M210,1783 L229.5,1783 L229.5,1803.6 L210,1803.6 Z" fill="#000" stroke="none"/>
<ellipse cx="219" cy="1795" rx="6" ry="4" fill="#fff" stroke="#000" stroke-width="0"/>
<path d="M235,1780 L314,1780" fill="none" stroke="#000" stroke-width="3" />
<ellipse cx="166.3" cy="1914" rx="47.5" ry="33.7" fill="none" stroke="#000" stroke-width="4"/>
<ellipse cx="167.5" cy="1915" rx="41.5" ry="24.3" fill="none" stroke="#000" stroke-width="2.5"/>
<path d="M119,1917 L119,1940 C125,1960 145,1968 167,1968 C185,1968 203,1962 213.8,1945 L213.8,1917" fill="none" stroke="#000" stroke-width="3" />
<path d="M125,1935 C135,1950 150,1955 167,1955 C185,1955 200,1950 209,1935" fill="none" stroke="#000" stroke-width="2" />
<path d="M116.4,1955 L116.4,1990 C116,2010 130,2018 145,2018 L161,2023 L161,2043 C161,2051 175,2053 185,2051 L194.6,2045" fill="none" stroke="#000" stroke-width="3.5" />
<path d="M116.4,1955 C120,1965 140,1978 165,1978 C175,1978 185,1976 195,1970" fill="none" stroke="#000" stroke-width="3" />
<path d="M125,1965 L125,1995 C130,2005 140,2010 150,2010" fill="none" stroke="#000" stroke-width="2" />
<path d="M150,1978 L150,2007" fill="none" stroke="#000" stroke-width="2" />
<ellipse cx="162" cy="2005" rx="8" ry="7" fill="none" stroke="#000" stroke-width="3"/>
<ellipse cx="162" cy="2005" rx="3.5" ry="3" fill="none" stroke="#000" stroke-width="2"/>
<path d="M166,2020 L166,2040" fill="none" stroke="#000" stroke-width="2.5" />
<ellipse cx="210.2" cy="1999.4" rx="30" ry="43" fill="none" stroke="#000" stroke-width="3.5" transform="rotate(28 210.2 1999.4)"/>
<ellipse cx="214" cy="1998" rx="24" ry="36" fill="none" stroke="#000" stroke-width="3" transform="rotate(28 214 1998)"/>
<ellipse cx="204" cy="2001" rx="28" ry="41" fill="none" stroke="#000" stroke-width="2" transform="rotate(28 204 2001)"/>
<line x1="200" y1="1996" x2="247" y2="2018" stroke="#000" stroke-width="1.5"/>
<line x1="215" y1="1905.7" x2="248.7" y2="1905.7" stroke="#000" stroke-width="3"/>
<ellipse cx="304" cy="2054" rx="49" ry="62" fill="none" stroke="#000" stroke-width="2.5" transform="rotate(22 304 2054)"/>
<path d="M266,2040 C265,2070 270,2095 290,2105" fill="none" stroke="#000" stroke-width="1.5" stroke-dasharray="5 4"/>
<path d="M292,2002 C312,1998 335,2003 345,2015 C358,2030 358,2075 345,2095 C335,2110 315,2115 300,2110" fill="none" stroke="#000" stroke-width="3" />
<path d="M268,2002 L280,1995 L286,2008 L276,2017 L270,2015 Z" fill="#000" stroke="none"/>
<ellipse cx="284" cy="2003" rx="5" ry="4" fill="none" stroke="#000" stroke-width="2"/>
<ellipse cx="291" cy="2000" rx="4" ry="3" fill="none" stroke="#000" stroke-width="2"/>
<path d="M295,1992 L306,1985 L310,1995 L300,2000 Z" fill="#000" stroke="none"/>
<line x1="344.8" y1="2004.2" x2="374.9" y2="2004.2" stroke="#000" stroke-width="3"/>
<ellipse cx="175.4" cy="2093" rx="14" ry="9.5" fill="none" stroke="#000" stroke-width="2.5"/>
<path d="M161.5,2093 L162,2113 C164,2124 187,2124 189.8,2113 L189.8,2093" fill="none" stroke="#000" stroke-width="2.5" />
<path d="M162,2105 C165,2112 186,2112 189.5,2105" fill="none" stroke="#000" stroke-width="4" />
<path d="M162,2116 C165,2125 186,2125 189.5,2116" fill="none" stroke="#000" stroke-width="5" />
<line x1="180.4" y1="2133.5" x2="210.7" y2="2200" stroke="#000" stroke-width="3"/>
<path d="M354.9,2086 L336,2122 L850.3,2366 L871,2324.7" fill="none" stroke="#000" stroke-width="3.5" />
<line x1="566" y1="2236.8" x2="545.3" y2="2278" stroke="#000" stroke-width="3"/>
<path d="M360,2098 Q368,2104 376,2097 L388,2086" fill="none" stroke="#000" stroke-width="6.5" />
<path d="M386,2082 L395,2080 L414,2088 Q419,2094 414,2100 L406,2103 L388,2094 Z" fill="#000" stroke="none"/>
<path d="M424,2103.3 L444.3,2113.4" fill="none" stroke="#000" stroke-width="1.5" />
<path d="M520,2150 L528,2154 M581,2179 L590,2183 M640,2208 L652,2214 M711,2243 L722,2248 M795,2284 L813,2293 M864,2316 L900,2332" fill="none" stroke="#000" stroke-width="1.5" />
<path d="M447,2110 C452,2098 462,2092 472,2093 L510,2107" fill="none" stroke="#000" stroke-width="3.5" />
<path d="M447,2110 C443,2118 441,2130 441,2147 C442,2155 448,2162 463,2168 L488,2177" fill="none" stroke="#000" stroke-width="3.5" />
<path d="M459,2106 C452,2120 450,2140 452,2152 C455,2160 462,2166 470,2170" fill="none" stroke="#000" stroke-width="2.5" />
<path d="M472,2104 C462,2120 460,2145 463,2158 C466,2166 472,2170 480,2173" fill="none" stroke="#000" stroke-width="2.5" />
<ellipse cx="493.3" cy="2141.5" rx="28" ry="35" fill="none" stroke="#000" stroke-width="3.5" transform="rotate(-10 493.3 2141.5)"/>
<ellipse cx="494" cy="2141" rx="22" ry="30" fill="none" stroke="#000" stroke-width="2.5" transform="rotate(-10 494 2141)"/>
<ellipse cx="491" cy="2142" rx="24" ry="32.5" fill="none" stroke="#000" stroke-width="1.5" transform="rotate(-10 491 2142)"/>
<line x1="479" y1="2130" x2="510" y2="2144" stroke="#000" stroke-width="1.5"/>
<ellipse cx="552" cy="2170" rx="28.5" ry="32" fill="#000" stroke="#000" stroke-width="0" transform="rotate(-10 552 2170)"/>
<circle cx="531.0" cy="2153.5" r="2.1" fill="#fff"/><circle cx="528.0" cy="2159.0" r="2.1" fill="#fff"/><circle cx="531.0" cy="2164.5" r="2.1" fill="#fff"/><circle cx="528.0" cy="2170.0" r="2.1" fill="#fff"/><circle cx="531.0" cy="2175.5" r="2.1" fill="#fff"/><circle cx="528.0" cy="2181.0" r="2.1" fill="#fff"/><circle cx="531.0" cy="2186.5" r="2.1" fill="#fff"/><circle cx="537.0" cy="2153.5" r="2.1" fill="#fff"/><circle cx="534.0" cy="2159.0" r="2.1" fill="#fff"/><circle cx="537.0" cy="2164.5" r="2.1" fill="#fff"/><circle cx="534.0" cy="2170.0" r="2.1" fill="#fff"/><circle cx="537.0" cy="2175.5" r="2.1" fill="#fff"/><circle cx="534.0" cy="2181.0" r="2.1" fill="#fff"/><circle cx="537.0" cy="2186.5" r="2.1" fill="#fff"/><circle cx="540.0" cy="2148.0" r="2.1" fill="#fff"/><circle cx="543.0" cy="2153.5" r="2.1" fill="#fff"/><circle cx="540.0" cy="2159.0" r="2.1" fill="#fff"/><circle cx="543.0" cy="2164.5" r="2.1" fill="#fff"/><circle cx="540.0" cy="2170.0" r="2.1" fill="#fff"/><circle cx="543.0" cy="2175.5" r="2.1" fill="#fff"/><circle cx="540.0" cy="2181.0" r="2.1" fill="#fff"/><circle cx="543.0" cy="2186.5" r="2.1" fill="#fff"/><circle cx="540.0" cy="2192.0" r="2.1" fill="#fff"/><circle cx="549.0" cy="2142.5" r="2.1" fill="#fff"/><circle cx="546.0" cy="2148.0" r="2.1" fill="#fff"/><circle cx="549.0" cy="2153.5" r="2.1" fill="#fff"/><circle cx="546.0" cy="2159.0" r="2.1" fill="#fff"/><circle cx="549.0" cy="2164.5" r="2.1" fill="#fff"/><circle cx="546.0" cy="2170.0" r="2.1" fill="#fff"/><circle cx="549.0" cy="2175.5" r="2.1" fill="#fff"/><circle cx="546.0" cy="2181.0" r="2.1" fill="#fff"/><circle cx="549.0" cy="2186.5" r="2.1" fill="#fff"/><circle cx="546.0" cy="2192.0" r="2.1" fill="#fff"/><circle cx="549.0" cy="2197.5" r="2.1" fill="#fff"/><circle cx="555.0" cy="2142.5" r="2.1" fill="#fff"/><circle cx="552.0" cy="2148.0" r="2.1" fill="#fff"/><circle cx="555.0" cy="2153.5" r="2.1" fill="#fff"/><circle cx="552.0" cy="2159.0" r="2.1" fill="#fff"/><circle cx="555.0" cy="2164.5" r="2.1" fill="#fff"/><circle cx="552.0" cy="2170.0" r="2.1" fill="#fff"/><circle cx="555.0" cy="2175.5" r="2.1" fill="#fff"/><circle cx="552.0" cy="2181.0" r="2.1" fill="#fff"/><circle cx="555.0" cy="2186.5" r="2.1" fill="#fff"/><circle cx="552.0" cy="2192.0" r="2.1" fill="#fff"/><circle cx="555.0" cy="2197.5" r="2.1" fill="#fff"/><circle cx="558.0" cy="2148.0" r="2.1" fill="#fff"/><circle cx="561.0" cy="2153.5" r="2.1" fill="#fff"/><circle cx="558.0" cy="2159.0" r="2.1" fill="#fff"/><circle cx="561.0" cy="2164.5" r="2.1" fill="#fff"/><circle cx="558.0" cy="2170.0" r="2.1" fill="#fff"/><circle cx="561.0" cy="2175.5" r="2.1" fill="#fff"/><circle cx="558.0" cy="2181.0" r="2.1" fill="#fff"/><circle cx="561.0" cy="2186.5" r="2.1" fill="#fff"/><circle cx="558.0" cy="2192.0" r="2.1" fill="#fff"/><circle cx="564.0" cy="2148.0" r="2.1" fill="#fff"/><circle cx="567.0" cy="2153.5" r="2.1" fill="#fff"/><circle cx="564.0" cy="2159.0" r="2.1" fill="#fff"/><circle cx="567.0" cy="2164.5" r="2.1" fill="#fff"/><circle cx="564.0" cy="2170.0" r="2.1" fill="#fff"/><circle cx="567.0" cy="2175.5" r="2.1" fill="#fff"/><circle cx="564.0" cy="2181.0" r="2.1" fill="#fff"/><circle cx="567.0" cy="2186.5" r="2.1" fill="#fff"/><circle cx="564.0" cy="2192.0" r="2.1" fill="#fff"/><circle cx="573.0" cy="2153.5" r="2.1" fill="#fff"/><circle cx="570.0" cy="2159.0" r="2.1" fill="#fff"/><circle cx="573.0" cy="2164.5" r="2.1" fill="#fff"/><circle cx="570.0" cy="2170.0" r="2.1" fill="#fff"/><circle cx="573.0" cy="2175.5" r="2.1" fill="#fff"/><circle cx="570.0" cy="2181.0" r="2.1" fill="#fff"/><circle cx="573.0" cy="2186.5" r="2.1" fill="#fff"/><circle cx="576.0" cy="2159.0" r="2.1" fill="#fff"/><circle cx="576.0" cy="2170.0" r="2.1" fill="#fff"/><circle cx="576.0" cy="2181.0" r="2.1" fill="#fff"/>
<ellipse cx="614" cy="2200" rx="29" ry="37" fill="none" stroke="#000" stroke-width="3.5" transform="rotate(-12 614 2200)"/>
<ellipse cx="616.8" cy="2201" rx="19" ry="22" fill="none" stroke="#000" stroke-width="3" transform="rotate(-12 616.8 2201)"/>
<path d="M590,2180 L597,2170 M645,2210 L650,2214 L646,2222 M599,2193 L604,2190 L605,2200 L599,2202" fill="none" stroke="#000" stroke-width="2.5" />
<ellipse cx="679" cy="2229" rx="31" ry="35.5" fill="none" stroke="#000" stroke-width="3.5" transform="rotate(-12 679 2229)"/>
<ellipse cx="683.5" cy="2238" rx="18.5" ry="25" fill="none" stroke="#000" stroke-width="3" transform="rotate(-12 683.5 2238)"/>
<ellipse cx="690" cy="2230" rx="22" ry="32" fill="none" stroke="#000" stroke-width="2" transform="rotate(-12 690 2230)"/>
<path d="M650,2210 L655,2200 M650,2242 L656,2250" fill="none" stroke="#000" stroke-width="2.5" />
<ellipse cx="756" cy="2266" rx="38.5" ry="35.5" fill="none" stroke="#000" stroke-width="4.5" transform="rotate(-12 756 2266)"/>
<ellipse cx="764" cy="2268" rx="30" ry="32" fill="none" stroke="#000" stroke-width="3" transform="rotate(-12 764 2268)"/>
<path d="M725,2250 C722,2262 724,2280 735,2292 M732,2245 C728,2260 730,2280 740,2295" fill="none" stroke="#000" stroke-width="2" />
<path d="M748,2240 L762,2238 L768,2258 L760,2262 Z" fill="#000" stroke="none"/>
<path d="M786,2244 L794,2258 L784,2262 L778,2252 Z" fill="#000" stroke="none"/>
<path d="M742,2272 L757,2268 L758,2280 L746,2290 Z" fill="#000" stroke="none"/>
<path d="M768,2292 L782,2294 L778,2302 L766,2300 Z" fill="#000" stroke="none"/>
<ellipse cx="774" cy="2276" rx="14" ry="18" fill="none" stroke="#000" stroke-width="3.5" transform="rotate(-12 774 2276)"/>
<ellipse cx="776" cy="2277" rx="7" ry="9" fill="none" stroke="#000" stroke-width="3" transform="rotate(-12 776 2277)"/>
<path d="M815,2290 C813,2300 817,2310 824,2318 L830,2304 L826,2288 Z" fill="#000" stroke="none"/>
<path d="M815,2290 C820,2285 830,2283 840,2286" fill="none" stroke="#000" stroke-width="3" />
<ellipse cx="844" cy="2308" rx="20" ry="22.5" fill="none" stroke="#000" stroke-width="3.5" transform="rotate(-12 844 2308)"/>
<ellipse cx="847" cy="2309" rx="12" ry="14" fill="none" stroke="#000" stroke-width="3" transform="rotate(-12 847 2309)"/>
<ellipse cx="848" cy="2310" rx="5" ry="6" fill="none" stroke="#000" stroke-width="2" transform="rotate(-12 848 2310)"/>
<path d="M877.8,2371.4 L970.5,2278.7 L1029.3,2263.3 L1287.3,2371.4 L1216.2,2519.8" fill="none" stroke="#000" stroke-width="3" />
<line x1="1134.3" y1="2305" x2="1166.8" y2="2257" stroke="#000" stroke-width="3"/>
<line x1="990.6" y1="2336" x2="1001.4" y2="2308" stroke="#000" stroke-width="3"/>
<path d="M1092,2318 C1088,2308 1096,2303 1103,2305 C1110,2307 1113,2312 1114,2318 L1117,2347 C1118,2357 1110,2361 1104,2356" fill="none" stroke="#000" stroke-width="3.5" />
<line x1="1118" y1="2352" x2="1140.5" y2="2352" stroke="#000" stroke-width="3"/>
<line x1="939.6" y1="2319" x2="939.6" y2="2357" stroke="#000" stroke-width="2"/>
<path d="M865.5,2314 L900,2330 M918,2339 L929,2345" fill="none" stroke="#000" stroke-width="1.5" />
<path d="M907,2372 C910,2362 925,2357 940,2356 C955,2350 975,2344 992,2341 C998,2338 1003,2337 1006,2339 L1013,2343.7 L1090,2375.3" fill="none" stroke="#000" stroke-width="4" />
<path d="M1014.3,2349 L1076,2375.3" fill="none" stroke="#000" stroke-width="3" />
<path d="M950,2358 C958,2353 965,2352 972,2353" fill="none" stroke="#000" stroke-width="4" />
<path d="M962,2362 C975,2355 985,2352 993,2353" fill="none" stroke="#000" stroke-width="3" />
<path d="M1008.8,2358.8 C1006,2375 1000,2395 980,2407" fill="none" stroke="#000" stroke-width="3" />
<path d="M992,2352 C995,2375 990,2395 975,2410" fill="none" stroke="#000" stroke-width="2" />
<path d="M980,2410 C970,2415 965,2420 963,2426 L985,2427" fill="none" stroke="#000" stroke-width="2.5" />
<ellipse cx="939" cy="2383" rx="32" ry="23.5" fill="none" stroke="#000" stroke-width="5"/>
<ellipse cx="940" cy="2375.5" rx="24" ry="9.5" fill="none" stroke="#000" stroke-width="2.5"/>
<ellipse cx="939" cy="2377" rx="28" ry="14" fill="none" stroke="#000" stroke-width="2"/>
<path d="M914,2384 C920,2376 960,2376 966,2384 C960,2394 920,2394 914,2384 Z" fill="#000" stroke="none"/>
<ellipse cx="928" cy="2385" rx="6" ry="2.5" fill="#fff" stroke="#000" stroke-width="0"/>
<path d="M909,2389 C915,2400 928,2403 940,2403 C953,2403 966,2398 971,2389" fill="none" stroke="#000" stroke-width="2.5" />
<path d="M907,2400 L890,2413 L887.4,2425 L890,2432 L915,2444 L945,2446 L965,2446 L983,2440 L983,2420 L970,2404 L950,2407 L925,2407 Z" fill="#000" stroke="none"/>
<path d="M898,2414 L912,2407 L920,2412 L907,2418 Z" fill="#fff" stroke="none"/>
<path d="M892,2420 L903,2419 L908,2430 L897,2427 Z" fill="#fff" stroke="none"/>
<path d="M918,2414 L932,2412 L938,2420 L924,2428 Z" fill="#fff" stroke="none"/>
<path d="M939,2418 L947,2423 L943,2429 L938,2426 Z" fill="#fff" stroke="none"/>
<path d="M950,2419 L962,2423 L958,2427 Z" fill="#fff" stroke="none"/>
<path d="M956,2432 L967,2430 L968,2434 L958,2436 Z" fill="#fff" stroke="none"/>
<path d="M914,2437 L930,2434 L935,2439 L920,2440 Z" fill="#fff" stroke="none"/>
<path d="M970,2416 L983,2420 L975,2426 Z" fill="#fff" stroke="none"/>
<path d="M890.7,2432 L890.7,2456 C893,2468 905,2476 917,2479.6" fill="none" stroke="#000" stroke-width="4" />
<path d="M895,2434 L895,2456" fill="none" stroke="#000" stroke-width="2" />
<path d="M911,2445 C908,2455 909,2468 915,2476 L929,2479 L950,2476 L951,2450 L945,2441 L925,2441 Z" fill="#000" stroke="none"/>
<path d="M920.0,2444 C914.0,2452 914.0,2468 920.0,2476" fill="none" stroke="#fff" stroke-width="1.6" />
<path d="M925.8,2444 C919.8,2452 919.8,2468 925.8,2476" fill="none" stroke="#fff" stroke-width="1.6" />
<path d="M931.6,2444 C925.6,2452 925.6,2468 931.6,2476" fill="none" stroke="#fff" stroke-width="1.6" />
<path d="M937.4,2444 C931.4,2452 931.4,2468 937.4,2476" fill="none" stroke="#fff" stroke-width="1.6" />
<path d="M943.2,2444 C937.2,2452 937.2,2468 943.2,2476" fill="none" stroke="#fff" stroke-width="1.6" />
<path d="M946,2476 L979,2458 C985,2455 985,2446 978,2444 L951,2443" fill="none" stroke="#000" stroke-width="3.5" />
<ellipse cx="972.3" cy="2448" rx="3.5" ry="3.5" fill="none" stroke="#000" stroke-width="3"/>
<path d="M898,2499.4 L898,2539.8 L911.3,2544.7 L962.4,2512.5 M904.7,2492.8 L950,2479.6 L951.5,2482 L910,2497.7 L910,2539 M898,2499.4 L904.7,2492.8" fill="none" stroke="#000" stroke-width="4" />
<path d="M908,2490 L948,2478" fill="none" stroke="#000" stroke-width="2" />
<ellipse cx="920.4" cy="2507.6" rx="4.5" ry="7.5" fill="#000" stroke="#000" stroke-width="0"/>
<path d="M961.2,2464 L961.2,2512.5 M969.4,2462 L969.4,2512" fill="none" stroke="#000" stroke-width="3.5" />
<path d="M946.8,2521.6 L962,2515 L976.5,2528 L972,2538 L962.4,2540.6 L945,2532 Z" fill="#000" stroke="none"/>
<path d="M970,2482 L984,2475 L995,2482 L1000,2500 L985,2505 L975,2497 Z" fill="#000" stroke="none"/>
<path d="M970,2446 C980,2470 990,2490 1008,2498 C1015,2502 1022,2504 1029.5,2504.5 C1050,2512 1080,2518 1099.5,2522.3" fill="none" stroke="#000" stroke-width="3.5" />
<ellipse cx="1047" cy="2437" rx="32" ry="67" fill="none" stroke="#000" stroke-width="4" transform="rotate(27 1047 2437)"/>
<ellipse cx="1041" cy="2437" rx="25" ry="54" fill="none" stroke="#000" stroke-width="3" transform="rotate(27 1041 2437)"/>
<path d="M1076,2389 C1058,2430 1042,2468 1025.3,2497.6" fill="none" stroke="#000" stroke-width="3" />
<path d="M1082,2390 C1085,2430 1062,2475 1025.3,2497.6" fill="none" stroke="#000" stroke-width="3" />
<path d="M1032,2416.5 L1057,2424 L1040.4,2442.6 Z" fill="#000" stroke="none"/>
<path d="M1013,2466 L1036,2469 L1027,2488 Z" fill="#000" stroke="none"/>
<path d="M1022,2453 L1043,2456 L1041,2462 L1020,2459 Z" fill="#000" stroke="none"/>
<path d="M1024,2438 L1045,2445 L1038,2460 M1024,2438 L1018,2452" fill="none" stroke="#000" stroke-width="2.5" />
<path d="M1005,2450 C1002,2470 1008,2490 1015,2500" fill="none" stroke="#000" stroke-width="2" />
<path d="M1090,2375.3 L1103.6,2389 C1125,2395 1140,2410 1147.6,2431.6" fill="none" stroke="#000" stroke-width="3.5" />
<path d="M1096,2385 C1110,2395 1130,2415 1136,2432" fill="none" stroke="#000" stroke-width="2" />
<path d="M1082.3,2415 L1096.8,2416 L1133.8,2434.4" fill="none" stroke="#000" stroke-width="3" />
<ellipse cx="1120" cy="2486.5" rx="25.5" ry="47" fill="none" stroke="#000" stroke-width="3" transform="rotate(22 1120 2486.5)"/>
<ellipse cx="1124" cy="2486" rx="21" ry="42" fill="none" stroke="#000" stroke-width="2" transform="rotate(22 1124 2486)"/>
<path d="M1108,2462 L1140,2458 L1140,2470 L1106,2474 Z" fill="#000" stroke="none"/>
<path d="M1104,2488 L1137,2492 L1136,2503 L1103,2498 Z" fill="#000" stroke="none"/>
<path d="M1106,2510 L1136,2516 L1133,2526 L1112,2522 Z" fill="#000" stroke="none"/>
<path d="M1118,2443 L1148,2440 L1146,2452 L1124,2455 Z" fill="#000" stroke="none"/>
<path d="M1132,2450 L1150,2462 L1140,2470 Z" fill="#000" stroke="none"/>
<path d="M1099.5,2522.3 C1120,2535 1140,2545 1160,2545" fill="none" stroke="#000" stroke-width="3" />
<path d="M1140,2472 C1150,2466 1168,2464 1182,2472 C1198,2482 1206,2500 1203,2520 C1200,2536 1188,2543 1176,2543 C1160,2543 1148,2538 1140,2532" fill="none" stroke="#000" stroke-width="3.5" />
<ellipse cx="1172" cy="2508" rx="22" ry="27" fill="none" stroke="#000" stroke-width="3" transform="rotate(-15 1172 2508)"/>
<ellipse cx="1178" cy="2509" rx="16" ry="21" fill="none" stroke="#000" stroke-width="2.5" transform="rotate(-15 1178 2509)"/>
<ellipse cx="1184" cy="2510" rx="11" ry="14" fill="none" stroke="#000" stroke-width="2.5" transform="rotate(-15 1184 2510)"/>
<ellipse cx="1193.6" cy="2514" rx="8.5" ry="8.5" fill="none" stroke="#000" stroke-width="3"/>
<path d="M1150,2490 L1160,2480 L1165,2500 Z" fill="#000" stroke="none"/>
<path d="M1147,2440 C1160,2415 1180,2390 1206,2380" fill="none" stroke="#000" stroke-width="4.5" />
<path d="M1160,2452 C1185,2430 1220,2410 1254,2408.75" fill="none" stroke="#000" stroke-width="4.5" />
<ellipse cx="732" cy="786" rx="1.5" ry="1.5" fill="#000" stroke="#000" stroke-width="0"/>
<path d="M999.2,2546 L1030,2560" fill="none" stroke="#000" stroke-width="7" />
<path d="M1003.0,2544.0 L1001.5,2552.0" fill="none" stroke="#fff" stroke-width="1.5" />
<path d="M1007.5,2546.1 L1006.0,2554.1" fill="none" stroke="#fff" stroke-width="1.5" />
<path d="M1012.0,2548.2 L1010.5,2556.2" fill="none" stroke="#fff" stroke-width="1.5" />
<path d="M1016.5,2550.3 L1015.0,2558.3" fill="none" stroke="#fff" stroke-width="1.5" />
<path d="M1021.0,2552.4 L1019.5,2560.4" fill="none" stroke="#fff" stroke-width="1.5" />
<path d="M1025.5,2554.5 L1024.0,2562.5" fill="none" stroke="#fff" stroke-width="1.5" />
<ellipse cx="1037.7" cy="2561.2" rx="8.5" ry="9" fill="none" stroke="#000" stroke-width="3"/>
<ellipse cx="1039" cy="2561" rx="4" ry="4" fill="none" stroke="#000" stroke-width="2"/>
<line x1="1029" y1="2576.3" x2="1013" y2="2606.5" stroke="#000" stroke-width="3"/>
<path d="M1050,2649 L1050,2616 C1050,2611 1054,2609 1058,2611 L1106,2634" fill="none" stroke="#000" stroke-width="2.5" />
<path d="M1055.5,2652 L1055.5,2620 L1103,2640 L1106,2634" fill="none" stroke="#000" stroke-width="2" />
<line x1="1074.8" y1="2598.3" x2="1074.8" y2="2617.5" stroke="#000" stroke-width="3"/>
<path d="M1104,2575 L1101,2560 L1109,2555.7 L1118,2557 L1128,2565 L1142,2568 L1152,2572 L1155.8,2582 L1156,2600 L1140,2614 L1114.6,2630 L1101,2626 L1100.9,2613.4 L1105,2605 Z" fill="none" stroke="#000" stroke-width="3" />
<path d="M1138,2572 L1138,2596 L1152,2602" fill="none" stroke="#000" stroke-width="2" />
<ellipse cx="1144" cy="2582" rx="3" ry="3" fill="none" stroke="#000" stroke-width="2"/>
<line x1="1158.6" y1="2601.6" x2="1184.7" y2="2601.6" stroke="#000" stroke-width="3"/>
<ellipse cx="1247" cy="2554" rx="12.5" ry="6.5" fill="none" stroke="#000" stroke-width="2.5"/>
<path d="M1234.5,2554 L1234,2572 M1259.5,2554 L1260,2572" fill="none" stroke="#000" stroke-width="3" />
<path d="M1232.7,2570 C1233,2582 1261.6,2582 1261.6,2570 L1259,2568 C1255,2575 1238,2575 1235,2568 Z" fill="#000" stroke="none"/>
<line x1="1258.8" y1="2554.3" x2="1282" y2="2554.3" stroke="#000" stroke-width="3"/>
<path d="M1032.2,2671 L1058,2659 M1032.2,2671 L1032.2,2740 L1069.3,2755 L1128.4,2724.7 L1106.4,2712 M1032.2,2740 L1040,2736 L1040,2676 L1069,2690 L1090,2680" fill="none" stroke="#000" stroke-width="3" />
<ellipse cx="1043.5" cy="2694" rx="2.5" ry="3" fill="none" stroke="#000" stroke-width="2"/>
<path d="M1048.7,2695 L1069,2692 L1106.4,2690 L1106.4,2738 C1100,2748 1060,2750 1048.7,2740 Z" fill="#000" stroke="none"/>
<path d="M1072,2700 L1072,2745" fill="none" stroke="#fff" stroke-width="2" />
<path d="M1063,2660 L1063,2680 C1068,2690 1085,2690 1088,2680 L1088,2660" fill="none" stroke="#000" stroke-width="3" />
<ellipse cx="1075.5" cy="2659" rx="12.5" ry="6.5" fill="none" stroke="#000" stroke-width="3"/>
<path d="M1090,2670 L1120,2660 L1130,2670 L1125,2690 L1100,2697 L1088,2690 Z" fill="#000" stroke="none"/>
<path d="M1095,2682 L1110,2676 M1105,2690 L1118,2686" fill="none" stroke="#fff" stroke-width="2" />
<path d="M1069,2690 L1069,2752" fill="none" stroke="#000" stroke-width="1.5" />
<line x1="1068" y1="2759" x2="1058.3" y2="2787.9" stroke="#000" stroke-width="3"/>
<path d="M1137,2660 C1133,2650 1140,2643 1150,2645 L1160,2648 L1190,2643 L1193,2650 L1190,2660 L1195,2668 L1185,2675 L1175,2700 L1160,2709 L1150,2700 L1140,2680 Z" fill="none" stroke="#000" stroke-width="3" />
<path d="M1150,2665 L1188,2652" fill="none" stroke="#000" stroke-width="2" />
<ellipse cx="1155" cy="2682" rx="6" ry="15" fill="#000" stroke="#000" stroke-width="0" transform="rotate(-15 1155 2682)"/>
<ellipse cx="1176" cy="2676" rx="3.5" ry="3.5" fill="none" stroke="#000" stroke-width="2"/>
<ellipse cx="1173" cy="2686" rx="3" ry="3" fill="none" stroke="#000" stroke-width="2"/>
<ellipse cx="1181" cy="2685" rx="3" ry="3" fill="none" stroke="#000" stroke-width="2"/>
<line x1="1194.3" y1="2670.5" x2="1221.8" y2="2670.5" stroke="#000" stroke-width="3"/>
<path d="M1247.9,2727.4 L1263,2698.6 L1360.5,2744 L1342.6,2778.2" fill="none" stroke="#000" stroke-width="3" />
<line x1="1316.5" y1="2722" x2="1323.4" y2="2706.8" stroke="#000" stroke-width="3"/>
<ellipse cx="1268.5" cy="2722" rx="5.5" ry="7.5" fill="none" stroke="#000" stroke-width="2.5"/>
<line x1="1265.7" y1="2730" x2="1254.7" y2="2760.4" stroke="#000" stroke-width="3"/>
<ellipse cx="1298.7" cy="2738.4" rx="12.5" ry="14" fill="none" stroke="#000" stroke-width="3"/>
<ellipse cx="1299" cy="2738" rx="4" ry="4" fill="none" stroke="#000" stroke-width="2"/>
<path d="M1335,2743 C1325,2740 1320,2752 1323,2760 C1327,2768 1338,2765 1340,2758 M1330,2748 L1337,2752" fill="none" stroke="#000" stroke-width="3" />
<line x1="1324.8" y1="2770" x2="1311" y2="2798.8" stroke="#000" stroke-width="3"/>
<path d="M909,2577.5 L872,2595.4 L924.2,2731.4 L964,2713.5" fill="none" stroke="#000" stroke-width="3" />
<line x1="869.2" y1="2676.4" x2="896.7" y2="2666.8" stroke="#000" stroke-width="3"/>
<path d="M902,2600 C902,2595 919,2595 919,2600 L919,2646 C919,2650 902,2650 902,2646 Z" fill="#000" stroke="none"/>
<path d="M904,2597 C904,2586 912,2582 914,2586 L918,2595 M904,2648 L904,2660 C905,2668 912,2668 915,2664" fill="none" stroke="#000" stroke-width="1.5" />
<path d="M930,2673 C930,2668 946,2668 946,2673 L946,2699 C946,2703 930,2703 930,2699 Z" fill="#000" stroke="none"/>
<path d="M932,2670 C932,2660 940,2656 942,2660 L946,2670 M932,2702 L932,2710 C933,2716 940,2716 942,2712" fill="none" stroke="#000" stroke-width="1.5" />
<path d="M790,2484 C780,2488 770,2491 764,2497 L745,2535 L726,2566 C712,2590 700,2605 688,2613 C672,2625 655,2632 638,2634" fill="none" stroke="#000" stroke-width="18" stroke-linecap="round"/>
<path d="M722,2556 L748,2575" fill="none" stroke="#fff" stroke-width="2" />
<path d="M720,2553 L750,2578" fill="none" stroke="#000" stroke-width="1.2" />
<line x1="755.2" y1="2545" x2="782.7" y2="2545" stroke="#000" stroke-width="3"/>
<path d="M1354.3,2355.7 L1520.3,2430.7 L1503.2,2446.8 L1343.6,2375" fill="none" stroke="#000" stroke-width="3" />
<path d="M1343.6,2375 L1500,2444" fill="none" stroke="#000" stroke-width="4.5" />
<path d="M1354.3,2355.7 L1350,2362 L1353,2366 L1346,2372 L1343.6,2375 L1335,2386" fill="none" stroke="#000" stroke-width="2" />
<ellipse cx="1508" cy="2433" rx="3" ry="2" fill="#000" stroke="#000" stroke-width="0"/>
<line x1="1521.4" y1="2435" x2="1550.4" y2="2435" stroke="#000" stroke-width="3"/></g>
</svg></body></html>
